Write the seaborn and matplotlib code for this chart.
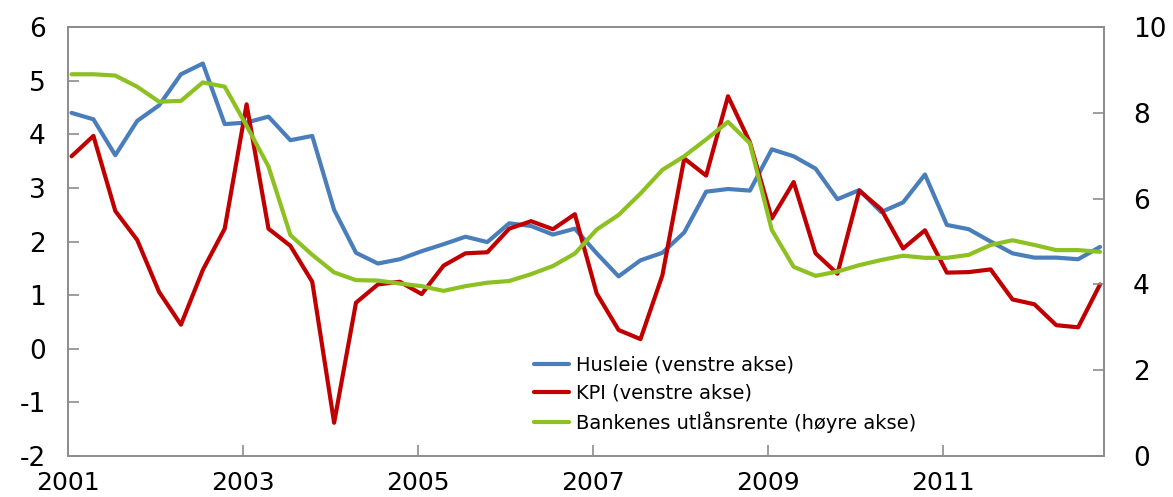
import numpy as np
import pandas as pd
import matplotlib
matplotlib.use("Agg")
import matplotlib.pyplot as plt
import seaborn as sns

# Quarterly data 2001Q1 - 2012Q4
years = [y for y in range(2001, 2013) for _ in range(4)]
quarters = [1, 2, 3, 4] * 12

husleie = [4.40, 4.28, 3.61, 4.25, 4.54, 5.12, 5.32, 4.19,
           4.22, 4.33, 3.89, 3.97, 2.59, 1.79, 1.59, 1.67,
           1.82, 1.95, 2.09, 1.99, 2.34, 2.29, 2.13, 2.24,
           1.78, 1.35, 1.65, 1.79, 2.17, 2.93, 2.98, 2.95,
           3.72, 3.59, 3.36, 2.79, 2.96, 2.55, 2.73, 3.25,
           2.31, 2.23, 2.00, 1.78, 1.70, 1.70, 1.67, 1.90]

kpi = [3.59, 3.97, 2.57, 2.03, 1.06, 0.45, 1.47, 2.24,
       4.56, 2.24, 1.92, 1.25, -1.38, 0.86, 1.20, 1.25,
       1.02, 1.55, 1.78, 1.80, 2.24, 2.38, 2.23, 2.51,
       1.03, 0.35, 0.18, 1.37, 3.55, 3.23, 4.71, 3.85,
       2.43, 3.11, 1.78, 1.40, 2.95, 2.60, 1.87, 2.21,
       1.42, 1.43, 1.48, 0.92, 0.83, 0.44, 0.40, 1.20]

utlansrente = [8.90, 8.90, 8.87, 8.61, 8.26, 8.28, 8.71, 8.61,
               7.70, 6.75, 5.15, 4.69, 4.28, 4.10, 4.09, 4.02,
               3.96, 3.85, 3.96, 4.04, 4.08, 4.24, 4.43, 4.72,
               5.28, 5.62, 6.12, 6.67, 6.99, 7.38, 7.79, 7.29,
               5.27, 4.41, 4.20, 4.30, 4.45, 4.57, 4.67, 4.62,
               4.62, 4.69, 4.92, 5.03, 4.92, 4.80, 4.80, 4.76]

labels = ["Husleie (venstre akse)", "KPI (venstre akse)",
          "Bankenes utlånsrente (høyre akse)"]
colors = ["#4A7EBB", "#C00000", "#8DC021"]
xtick_years = [2001, 2003, 2005, 2007, 2009, 2011]

df = pd.DataFrame({"year": years, "quarter": quarters,
                   "husleie": husleie, "kpi": kpi, "rente": utlansrente})
df["t"] = df["year"] + (df["quarter"] - 1) / 4 + 0.04

sns.set_style("white")
plt.rcParams["font.family"] = ["DejaVu Sans"]
plt.rcParams["axes.unicode_minus"] = False
plt.rcParams["text.color"] = "black"
plt.rcParams["xtick.color"] = "black"
plt.rcParams["ytick.color"] = "black"

fig = plt.figure(figsize=(11.73, 4.97), dpi=100)
ax = fig.add_axes([0.058, 0.0825, 0.883, 0.863])
ax2 = ax.twinx()

sns.lineplot(data=df, x="t", y="husleie", ax=ax, color=colors[0], lw=3, label=labels[0], legend=False)
sns.lineplot(data=df, x="t", y="kpi", ax=ax, color=colors[1], lw=3, label=labels[1], legend=False)
sns.lineplot(data=df, x="t", y="rente", ax=ax2, color=colors[2], lw=3, label=labels[2], legend=False)

ax.set_xlim(2001, 2012.833)
ax.set_ylim(-2, 6)
ax2.set_ylim(0, 10)
ax.set_xticks(xtick_years)
ax.set_xticklabels([str(y) for y in xtick_years])
ax.set_yticks(range(-2, 7))
ax2.set_yticks(range(0, 11, 2))
for a in (ax, ax2):
    a.set_xlabel("")
    a.set_ylabel("")
    for s in a.spines.values():
        s.set_color("#8C8C8C")
        s.set_linewidth(1.2)
        s.set_visible(True)

tick_kw = dict(direction="in", length=8, width=1.2, color="#8C8C8C",
               labelcolor="black")
ax.tick_params(axis="y", pad=16, left=True, labelsize=19, **tick_kw)
ax.tick_params(axis="x", pad=11, bottom=True, labelsize=18, **tick_kw)
ax2.tick_params(axis="y", pad=21, right=True, labelsize=19, **tick_kw)

h1, l1 = ax.get_legend_handles_labels()
h2, l2 = ax2.get_legend_handles_labels()
leg = ax.legend(h1 + h2, l1 + l2, loc="upper left", bbox_to_anchor=(0.4425, 0.252),
                frameon=False, fontsize=14, handlelength=1.8, handletextpad=0.36,
                labelspacing=0.45, borderaxespad=0)
for t in leg.get_texts():
    t.set_color("black")
leg.set_zorder(10)

fig.savefig("out.png", dpi=100)
